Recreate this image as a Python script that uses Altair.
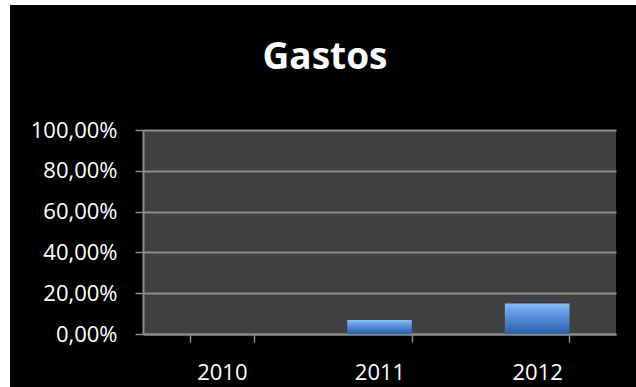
import altair as alt
import pandas as pd

years = ["2010", "2011", "2012"]
gastos = [0.0, 0.069, 0.15]

df = pd.DataFrame({"ano": years, "gastos": gastos})

PL, PT, W, H = 143, 130, 473, 204

bar_fill = alt.Gradient(
    gradient="linear",
    x1=0, x2=0, y1=0, y2=1,
    stops=[
        alt.GradientStop(color="#8cc0f7", offset=0),
        alt.GradientStop(color="#6aa3e8", offset=0.22),
        alt.GradientStop(color="#4a82cc", offset=0.6),
        alt.GradientStop(color="#2f5e9f", offset=1),
    ],
)

bars = alt.Chart(df).mark_bar(fill=bar_fill).encode(
    x=alt.X(
        "ano:N",
        sort=years,
        title=None,
        scale=alt.Scale(paddingInner=0.59, paddingOuter=0.295),
        axis=alt.Axis(
            labelAngle=0,
            tickBand="extent",
            tickSize=8,
            tickColor="#8c8c8c",
            tickWidth=1.5,
            domainColor="#8c8c8c",
            domainWidth=2,
            labelColor="white",
            labelFont="Open Sans",
            labelFontSize=22,
            labelPadding=20,
            grid=False,
        ),
    ),
    y=alt.Y(
        "gastos:Q",
        title=None,
        scale=alt.Scale(domain=[0, 1]),
        axis=alt.Axis(
            values=[0, 0.2, 0.4, 0.6, 0.8, 1.0],
            labelExpr="replace(format(datum.value, '.2%'), '.', ',')",
            tickSize=8,
            tickColor="#8c8c8c",
            tickWidth=1.5,
            domainColor="#8c8c8c",
            domainWidth=2,
            gridColor="#8c8c8c",
            gridWidth=2,
            labelColor="white",
            labelFont="Open Sans",
            labelFontSize=22,
            labelPadding=18,
        ),
    ),
)

frame = pd.DataFrame({"k": [0]})
left_strip = alt.Chart(frame).mark_rect(color="white").encode(
    x=alt.value(-PL), x2=alt.value(-PL + 10), y=alt.value(-PT), y2=alt.value(387 - PT)
)
top_strip = alt.Chart(frame).mark_rect(color="white").encode(
    x=alt.value(-PL), x2=alt.value(636 - PL), y=alt.value(-PT), y2=alt.value(-PT + 5)
)

chart = (
    alt.layer(left_strip, top_strip, bars)
    .properties(
        width=W,
        height=H,
        padding={"left": PL, "top": PT, "right": 636 - PL - W, "bottom": 387 - PT - H},
        autosize=alt.AutoSizeParams(type="none"),
        background="black",
        title=alt.TitleParams(
            "Gastos",
            color="white",
            font="Open Sans",
            fontSize=37,
            fontWeight="bold",
            anchor="middle",
            frame="bounds",
            baseline="alphabetic",
            offset=0,
            dy=106,
            dx=7,
        ),
    )
    .configure_view(fill="#404040", stroke=None)
)

chart.save("out.html", embed_options={"renderer": "svg", "actions": False})
